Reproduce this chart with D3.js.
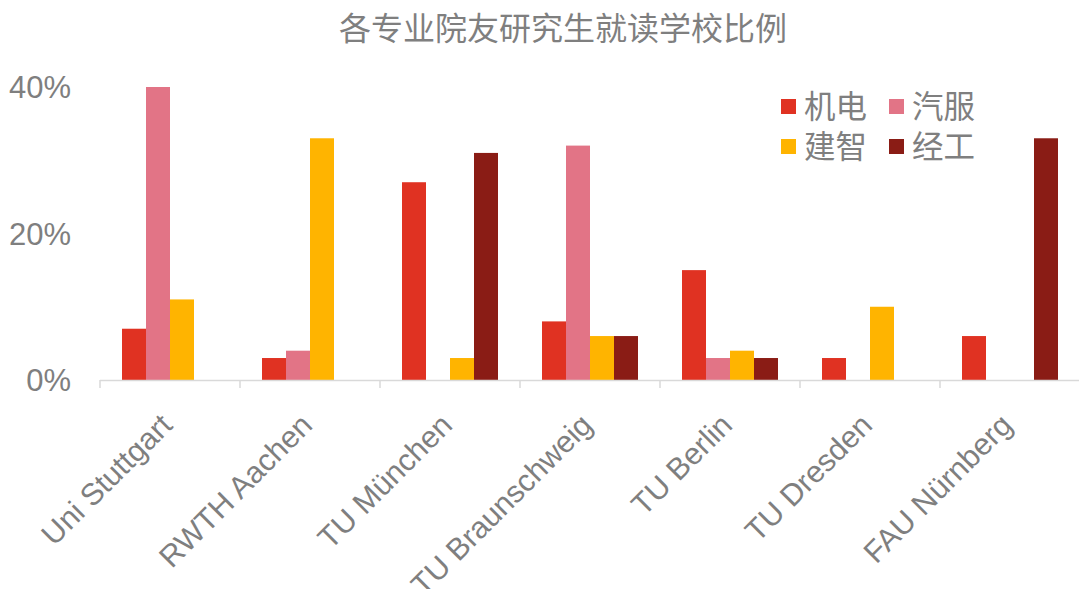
<!DOCTYPE html>
<html>
<head>
<meta charset="utf-8">
<script src="https://cdn.jsdelivr.net/npm/d3@7"></script>
<style>
body{margin:0;background:#fff;}
text{font-family:"Liberation Sans","Noto Sans CJK SC",sans-serif;fill:#7f7f7f;}
</style>
</head>
<body>
<svg id="svg" width="1079" height="589"></svg>
<script>
const schools=["Uni Stuttgart","RWTH Aachen","TU München","TU Braunschweig","TU Berlin","TU Dresden","FAU Nürnberg"];
const series=["机电","汽服","建智","经工"];
const colors=["#e03222","#e27486","#ffb400","#8a1c15"];
const jidian=[0.07,0.03,0.27,0.08,0.15,0.03,0.06];
const qifu=[0.40,0.04,0,0.32,0.03,0,0];
const jianzhi=[0.11,0.33,0.03,0.06,0.04,0.10,0];
const jinggong=[0,0,0.31,0.06,0.03,0,0.33];
const yTicks=[0,0.2,0.4];
const title="各专业院友研究生就读学校比例";

const values=[jidian,qifu,jianzhi,jinggong];
const svg=d3.select("#svg");

const x=d3.scaleBand().domain(schools).range([100,1080]);
const xs=d3.scaleBand().domain(series).range([22,x.bandwidth()-22]);
const y=d3.scaleLinear().domain([0,0.4]).range([380,87]);
const color=d3.scaleOrdinal().domain(series).range(colors);

// title
svg.append("text").attr("x",563).attr("y",40).attr("text-anchor","middle")
    .style("font-size","32px").text(title);

// bars
schools.forEach(function(s,i){
    let g=svg.append("g").attr("transform","translate("+x(s)+",0)");
    series.forEach(function(k,j){
        let v=values[j][i];
        if(v>0)
        {
            g.append("rect").attr("x",xs(k)).attr("y",y(v))
                .attr("width",xs.bandwidth()).attr("height",y(0)-y(v))
                .attr("fill",color(k));
        }
    });
});

// y axis labels
yTicks.forEach(function(t){
    svg.append("text").attr("x",71).attr("y",y(t)).attr("dy","0.36em")
        .attr("text-anchor","end").style("font-size","31px")
        .text(d3.format(".0%")(t));
});

// x axis
const xAxis=svg.append("g").attr("transform","translate(0,380)");
xAxis.append("line").attr("x1",100).attr("x2",1080).attr("y1",0.5).attr("y2",0.5)
    .attr("stroke","#d9d9d9").attr("stroke-width",1.5);
schools.forEach(function(s){
    xAxis.append("line").attr("x1",x(s)).attr("x2",x(s)).attr("y1",0).attr("y2",8)
        .attr("stroke","#d9d9d9").attr("stroke-width",1.5);
});
schools.forEach(function(s){
    let cx=x(s)+x.bandwidth()/2;
    svg.append("text").attr("text-anchor","end")
        .attr("transform","translate("+(cx+4)+",427) rotate(-45)")
        .style("font-size","30.5px").text(s);
});

// legend
const legend=svg.append("g").attr("transform","translate(781,99)");
series.forEach(function(k,j){
    let lx=(j%2)*108, ly=Math.floor(j/2)*40;
    legend.append("rect").attr("x",lx).attr("y",ly).attr("width",15).attr("height",15).attr("fill",color(k));
    legend.append("text").attr("x",lx+23).attr("y",ly+7.5).attr("dy","0.36em")
        .style("font-size","31.5px").text(k);
});
</script>
</body>
</html>
